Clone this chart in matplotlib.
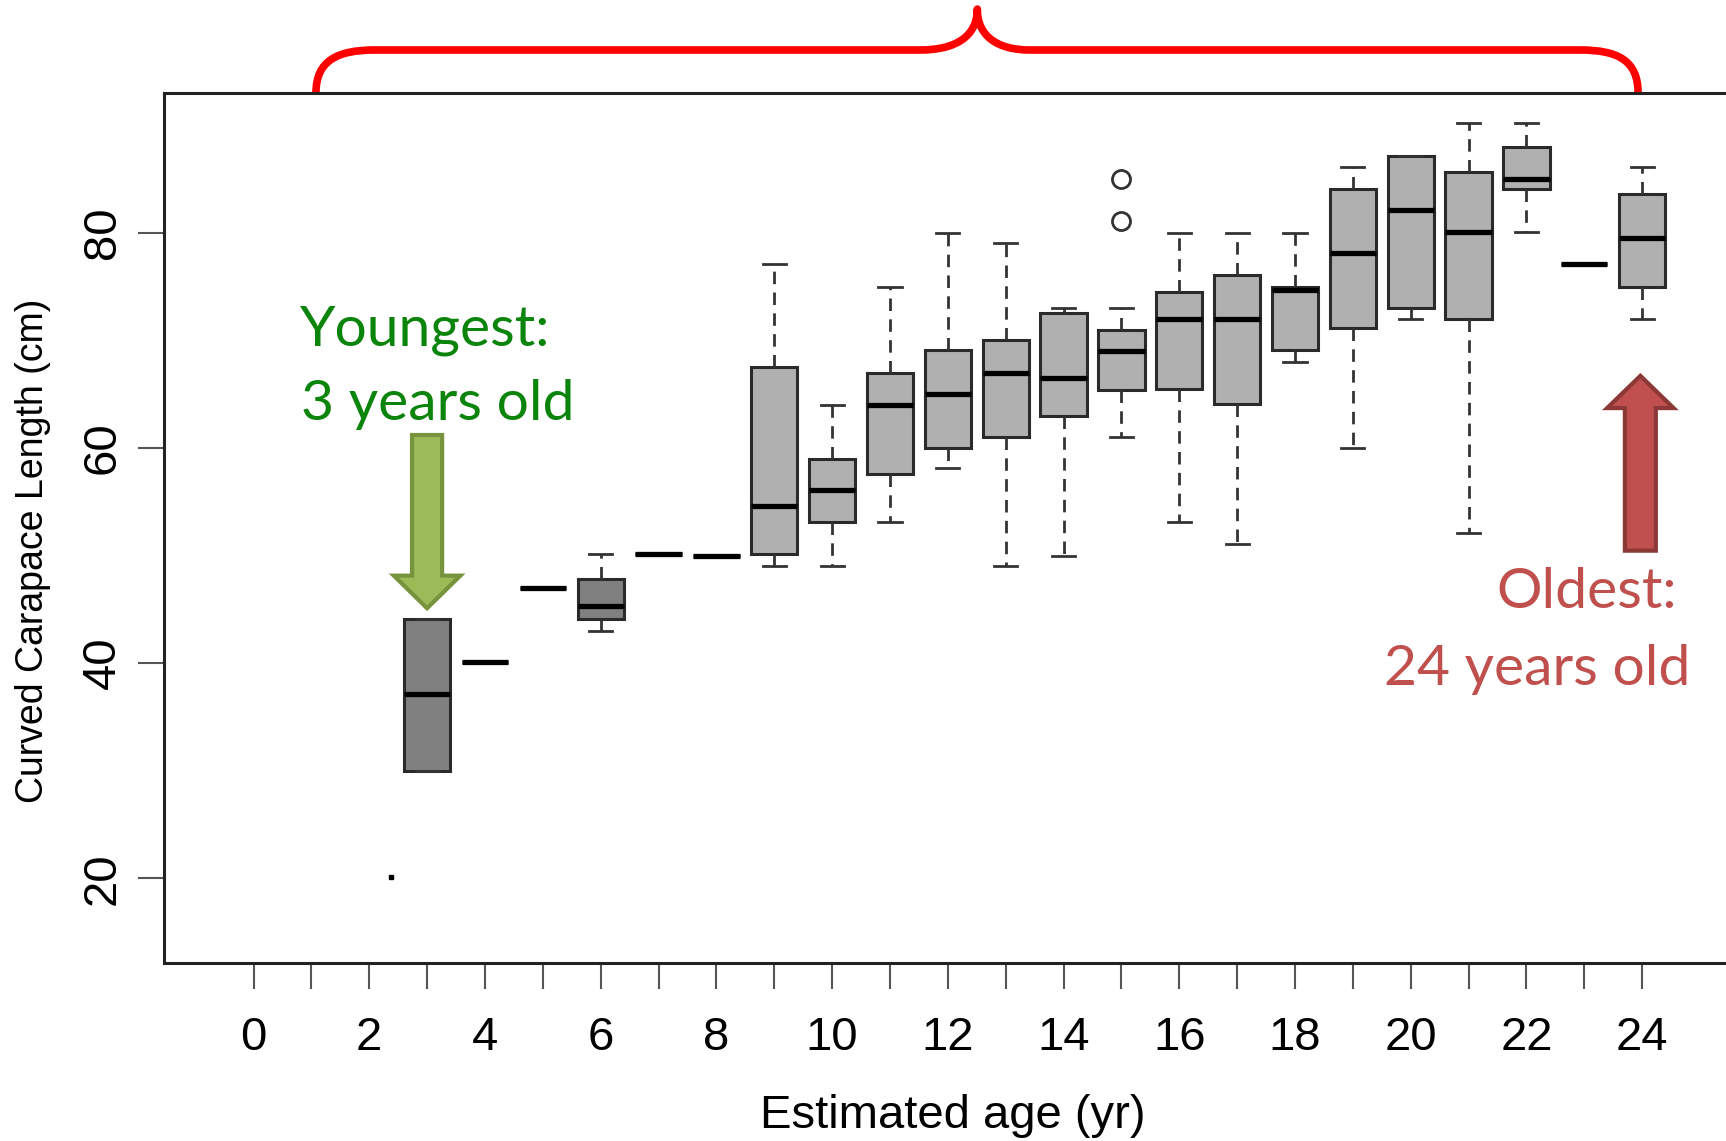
import matplotlib
matplotlib.use("Agg")
import matplotlib.pyplot as plt
from matplotlib.path import Path
from matplotlib.patches import PathPatch, FancyArrow

plt.rcParams["font.family"] = ["Liberation Sans Narrow", "Liberation Sans", "DejaVu Sans"]

# box statistics (cm)
ages = [3, 4, 5, 6, 7, 8, 9, 10, 11, 12, 13, 14, 15, 16, 17, 18, 19, 20, 21, 22, 23, 24]
whis_lo = [30.0, 40.1, 47.0, 43.0, 50.1, 50.0, 49.0, 49.0, 53.1, 58.1, 49.0, 50.0,
           61.0, 53.1, 51.1, 68.0, 60.0, 72.0, 52.1, 80.1, 77.1, 72.0]
q1 = [30.0, 40.1, 47.0, 44.1, 50.1, 50.0, 50.1, 53.1, 57.6, 60.0, 61.0, 63.0,
      65.4, 65.5, 64.1, 69.1, 71.1, 73.0, 72.0, 84.1, 77.1, 75.0]
median = [37.1, 40.1, 47.0, 45.3, 50.1, 50.0, 54.6, 56.1, 64.0, 65.0, 67.0, 66.5,
          69.0, 72.0, 72.0, 74.7, 78.1, 82.1, 80.1, 85.0, 77.1, 79.5]
q3 = [44.1, 40.1, 47.0, 47.8, 50.1, 50.0, 67.5, 59.0, 67.0, 69.1, 70.0, 72.5,
      71.0, 74.5, 76.1, 75.0, 84.1, 87.1, 85.6, 88.0, 77.1, 83.6]
whis_hi = [44.1, 40.1, 47.0, 50.1, 50.1, 50.0, 77.1, 64.0, 75.0, 80.0, 79.0, 73.0,
           73.0, 80.0, 80.0, 80.0, 86.1, 87.1, 90.2, 90.2, 77.1, 86.1]
outliers = {15: [85.0, 81.1]}
dark_ages = [3, 6]
stray_x = [2.37]
stray_y = [20.1]

W, H = 1726, 1141
fig = plt.figure(figsize=(W / 100, H / 100), dpi=100)
ax = fig.add_axes([164 / W, 1 - 963 / H, (W - 164) / W, (963 - 92.5) / H])

stats = []
for i, age in enumerate(ages):
    stats.append({"med": median[i], "q1": q1[i], "q3": q3[i],
                  "whislo": whis_lo[i], "whishi": whis_hi[i],
                  "fliers": outliers.get(age, [])})

bp = ax.bxp(stats, positions=ages, widths=0.8, patch_artist=True, showfliers=True,
            boxprops=dict(edgecolor="#2a2a2a", linewidth=2.2),
            medianprops=dict(color="black", linewidth=3.8, solid_capstyle="butt"),
            whiskerprops=dict(color="#333333", linewidth=2, linestyle=(0, (4.5, 3))),
            capprops=dict(color="#333333", linewidth=2),
            flierprops=dict(marker="o", markerfacecolor="none", markeredgecolor="#333333",
                            markersize=13, markeredgewidth=2))
for patch, age in zip(bp["boxes"], ages):
    patch.set_facecolor("#808080" if age in dark_ages else "#b0b0b0")

ax.plot(stray_x, stray_y, "s", color="black", ms=3)

ax.set_xlim(-1.547, 25.45)
ax.set_ylim(12.13, 93.03)
ax.set_xticks(range(0, 25))
ax.set_xticklabels([str(i) if i % 2 == 0 else "" for i in range(0, 25)])
ax.set_yticks([20, 40, 60, 80])
ax.set_yticklabels(["20", "40", "60", "80"], rotation=90, va="center")
ax.tick_params(axis="both", length=19, width=1.5, color="#555555", labelsize=34)
ax.tick_params(axis="x", pad=19)
ax.tick_params(axis="y", pad=9)
for side in ["left", "top", "bottom"]:
    ax.spines[side].set_color("#222222")
    ax.spines[side].set_linewidth(2.2)
ax.spines["right"].set_visible(False)

ax.set_xlabel("Estimated age (yr)", fontsize=34, va="center")
ax.xaxis.set_label_coords(0.505, -0.1755)
ax.set_ylabel("Curved Carapace Length (cm)", fontsize=27, va="center")
ax.yaxis.set_label_coords(-0.084, 0.473)

# annotations
green = "#0b840b"
red = "#c0504d"
ax.text(0.80, 69.56, "Youngest:", family="Lato", fontsize=41, color=green,
        ha="left", va="baseline")
ax.text(0.82, 62.6, "3 years old", family="Lato", fontsize=41, color=green,
        ha="left", va="baseline")
ax.text(24.60, 45.09, "Oldest:", family="Lato", fontsize=41, color=red,
        ha="right", va="baseline", clip_on=False)
ax.text(24.83, 37.97, "24 years old", family="Lato", fontsize=41, color=red,
        ha="right", va="baseline", clip_on=False)

ax.add_patch(FancyArrow(3.0, 61.2, 0, -16.1, width=0.52, head_width=1.15,
                        head_length=3.03, length_includes_head=True,
                        facecolor="#9bbb59", edgecolor="#77933c", linewidth=3))
ax.add_patch(FancyArrow(23.97, 50.45, 0, 16.25, width=0.535, head_width=1.15,
                        head_length=3.0, length_includes_head=True,
                        facecolor="#c0504d", edgecolor="#8c3836", linewidth=3))

# curly brace over the plot
y_end, y_mid, y_tip = 93.0, 96.98, 100.78
verts = [(1.08, y_end), (1.08, 96.0), (1.45, y_mid), (2.10, y_mid),
         (11.52, y_mid),
         (12.15, y_mid), (12.51, 98.3), (12.51, y_tip),
         (12.51, 98.3), (12.85, y_mid), (13.42, y_mid),
         (22.93, y_mid),
         (23.58, y_mid), (23.93, 96.0), (23.93, y_end)]
codes = [Path.MOVETO, Path.CURVE4, Path.CURVE4, Path.CURVE4,
         Path.LINETO,
         Path.CURVE4, Path.CURVE4, Path.CURVE4,
         Path.CURVE4, Path.CURVE4, Path.CURVE4,
         Path.LINETO,
         Path.CURVE4, Path.CURVE4, Path.CURVE4]
ax.add_patch(PathPatch(Path(verts, codes), facecolor="none", edgecolor="#ff0000",
                       linewidth=5.5, capstyle="butt", joinstyle="round",
                       clip_on=False))

fig.savefig("out.png", dpi=100)
